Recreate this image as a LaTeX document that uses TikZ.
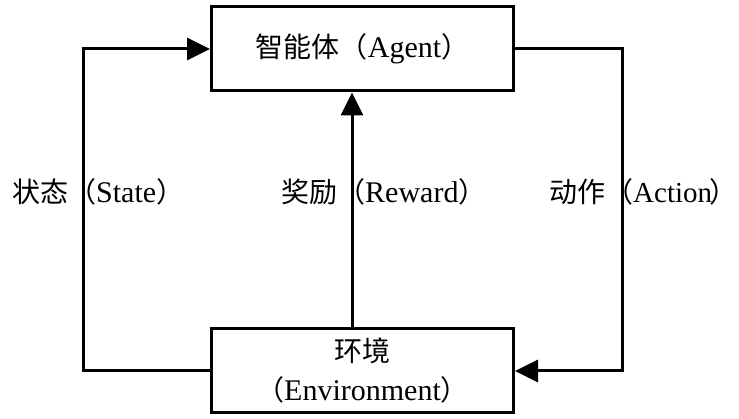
\documentclass[tikz,border=0pt]{standalone}
\usepackage{fontspec}
\setmainfont{Liberation Serif}
\newfontfamily\cjk{Noto Sans CJK SC}
\newcommand\zh[1]{{\cjk\fontsize{28}{40}\selectfont #1}}
\usetikzlibrary{arrows.meta}
\begin{document}
\begin{tikzpicture}[x=1pt,y=-1pt,
  box/.style={draw,line width=3pt,rectangle,minimum width=302pt,inner sep=0pt,align=center},
  conn/.style={line width=3pt},
  arr/.style={conn,-{Triangle[length=23pt,width=22pt]}},
  lbl/.style={inner sep=0pt,anchor=base west},
  every node/.style={font=\fontsize{30}{39}\selectfont}]
\useasboundingbox (0,0) rectangle (739,419);
\node[box,minimum height=84pt] (agent) at (362.5,49) {\zh{智能体（}Agent\zh{）}};
\node[box,minimum height=84pt] (env) at (362.5,371) {\zh{环境}\\\zh{（}Environment\zh{）}};
\coordinate (sl) at (83,200);
\coordinate (ar) at (622,200);
\coordinate (mx) at (352,200);
\draw[arr] (env.west) -| (sl) |- (agent.west);
\draw[arr] (agent.east) -| (ar) |- (env.east);
\draw[arr] (env.north -| mx) -- (agent.south -| mx);
\node[lbl] (lstate) at (12,203) {\zh{状态（}State\zh{）}};
\node[lbl] (lreward) at (281,203) {\zh{奖励（}Reward\zh{）}};
\node[lbl] (laction) at (549,203) {\zh{动作（}{\fontsize{29}{39}\selectfont Action}\kern-3pt\zh{）}};
\end{tikzpicture}
\end{document}
